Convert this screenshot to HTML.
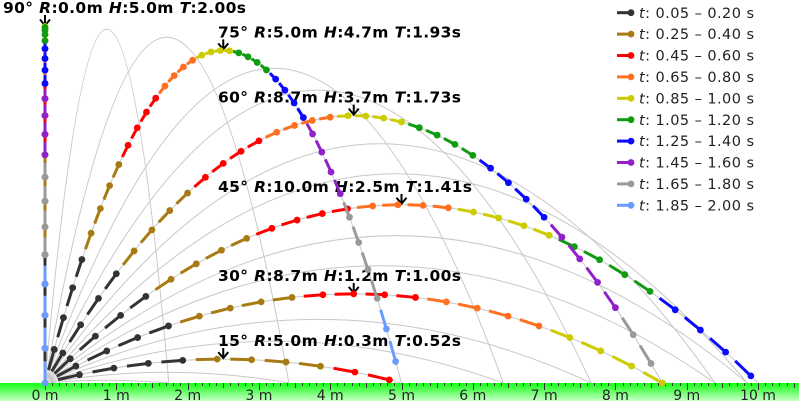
<!DOCTYPE html>
<html><head><meta charset="utf-8">
<style>
html,body{margin:0;padding:0;background:#fff;}
svg{display:block;}
.lab{font-family:"DejaVu Sans","Liberation Sans",sans-serif;font-weight:bold;font-size:15.5px;fill:#000;}
.leg{font-family:"DejaVu Sans","Liberation Sans",sans-serif;font-size:14.5px;fill:#222;}
.ax{font-family:"DejaVu Sans","Liberation Sans",sans-serif;font-size:14px;fill:#222;}
</style></head><body>
<svg id="s" width="799" height="401" viewBox="0 0 799 401" xmlns="http://www.w3.org/2000/svg">
<defs>
<linearGradient id="gg" x1="0" y1="0" x2="0" y2="1"><stop offset="0" stop-color="#11ff11"/><stop offset="1" stop-color="#c8ffc8"/></linearGradient>
<radialGradient id="fan" cx="45" cy="383" r="13" gradientUnits="userSpaceOnUse"><stop offset="0" stop-color="#eeeeee"/><stop offset="0.6" stop-color="#c4c4c4"/><stop offset="1" stop-color="#e8e8e8"/></radialGradient>
</defs>
<rect width="799" height="401" fill="#fff"/>
<g id="thin" fill="none" stroke="#c8c8c8" stroke-width="1"></g>
<path d="M45,383 L58,383 A13,13 0 0 0 45,370 Z" fill="url(#fan)"/>
<rect x="0" y="383" width="799" height="18" fill="url(#gg)"/>
<g id="ticks" stroke="#333" stroke-width="1"></g>
<g class="ax" text-anchor="middle">
<text x="45" y="400">0 m</text>
<text x="116.3" y="400">1 m</text>
<text x="187.6" y="400">2 m</text>
<text x="258.9" y="400">3 m</text>
<text x="330.2" y="400">4 m</text>
<text x="401.5" y="400">5 m</text>
<text x="472.8" y="400">6 m</text>
<text x="544.1" y="400">7 m</text>
<text x="615.4" y="400">8 m</text>
<text x="686.7" y="400">9 m</text>
<text x="758" y="400">10 m</text>
</g>
<g>
<text class="lab" x="3" y="13" textLength="243" lengthAdjust="spacing">90° <tspan font-style="italic">R</tspan>:0.0m <tspan font-style="italic">H</tspan>:5.0m <tspan font-style="italic">T</tspan>:2.00s</text>
<text class="lab" x="218" y="37.4" textLength="243" lengthAdjust="spacing">75° <tspan font-style="italic">R</tspan>:5.0m <tspan font-style="italic">H</tspan>:4.7m <tspan font-style="italic">T</tspan>:1.93s</text>
<text class="lab" x="218" y="102.6" textLength="243" lengthAdjust="spacing">60° <tspan font-style="italic">R</tspan>:8.7m <tspan font-style="italic">H</tspan>:3.7m <tspan font-style="italic">T</tspan>:1.73s</text>
<text class="lab" x="218" y="192" textLength="254" lengthAdjust="spacing">45° <tspan font-style="italic">R</tspan>:10.0m <tspan font-style="italic">H</tspan>:2.5m <tspan font-style="italic">T</tspan>:1.41s</text>
<text class="lab" x="218" y="281" textLength="243" lengthAdjust="spacing">30° <tspan font-style="italic">R</tspan>:8.7m <tspan font-style="italic">H</tspan>:1.2m <tspan font-style="italic">T</tspan>:1.00s</text>
<text class="lab" x="218" y="346" textLength="243" lengthAdjust="spacing">15° <tspan font-style="italic">R</tspan>:5.0m <tspan font-style="italic">H</tspan>:0.3m <tspan font-style="italic">T</tspan>:0.52s</text>
</g>
<g id="arrows" stroke="#000" stroke-width="2" fill="none"></g>
<g id="traj" stroke-linecap="butt"></g>
<g id="legend" stroke-width="3">
<line x1="617" y1="12.7" x2="631" y2="12.7" stroke="#333333"/><circle cx="631" cy="12.7" r="3.4" fill="#333333"/>
<line x1="617" y1="34.1" x2="631" y2="34.1" stroke="#a87a12"/><circle cx="631" cy="34.1" r="3.4" fill="#a87a12"/>
<line x1="617" y1="55.5" x2="631" y2="55.5" stroke="#ff0000"/><circle cx="631" cy="55.5" r="3.4" fill="#ff0000"/>
<line x1="617" y1="76.9" x2="631" y2="76.9" stroke="#ff7020"/><circle cx="631" cy="76.9" r="3.4" fill="#ff7020"/>
<line x1="617" y1="98.3" x2="631" y2="98.3" stroke="#cccc00"/><circle cx="631" cy="98.3" r="3.4" fill="#cccc00"/>
<line x1="617" y1="119.7" x2="631" y2="119.7" stroke="#109c10"/><circle cx="631" cy="119.7" r="3.4" fill="#109c10"/>
<line x1="617" y1="141.1" x2="631" y2="141.1" stroke="#0a0aff"/><circle cx="631" cy="141.1" r="3.4" fill="#0a0aff"/>
<line x1="617" y1="162.5" x2="631" y2="162.5" stroke="#9020c8"/><circle cx="631" cy="162.5" r="3.4" fill="#9020c8"/>
<line x1="617" y1="183.9" x2="631" y2="183.9" stroke="#9a9a9a"/><circle cx="631" cy="183.9" r="3.4" fill="#9a9a9a"/>
<line x1="617" y1="205.3" x2="631" y2="205.3" stroke="#6a9cff"/><circle cx="631" cy="205.3" r="3.4" fill="#6a9cff"/>
</g>
<g class="leg">
<text x="639" y="17.8" textLength="115" lengthAdjust="spacing"><tspan font-style="italic">t</tspan>: 0.05 – 0.20 s</text>
<text x="639" y="39.2" textLength="115" lengthAdjust="spacing"><tspan font-style="italic">t</tspan>: 0.25 – 0.40 s</text>
<text x="639" y="60.6" textLength="115" lengthAdjust="spacing"><tspan font-style="italic">t</tspan>: 0.45 – 0.60 s</text>
<text x="639" y="82" textLength="115" lengthAdjust="spacing"><tspan font-style="italic">t</tspan>: 0.65 – 0.80 s</text>
<text x="639" y="103.4" textLength="115" lengthAdjust="spacing"><tspan font-style="italic">t</tspan>: 0.85 – 1.00 s</text>
<text x="639" y="124.8" textLength="115" lengthAdjust="spacing"><tspan font-style="italic">t</tspan>: 1.05 – 1.20 s</text>
<text x="639" y="146.2" textLength="115" lengthAdjust="spacing"><tspan font-style="italic">t</tspan>: 1.25 – 1.40 s</text>
<text x="639" y="167.6" textLength="115" lengthAdjust="spacing"><tspan font-style="italic">t</tspan>: 1.45 – 1.60 s</text>
<text x="639" y="189" textLength="115" lengthAdjust="spacing"><tspan font-style="italic">t</tspan>: 1.65 – 1.80 s</text>
<text x="639" y="210.4" textLength="115" lengthAdjust="spacing"><tspan font-style="italic">t</tspan>: 1.85 – 2.00 s</text>
</g>
</svg>
<script>
(function(){
var S=71.3, X0=45, Y0=383;
function X(m){return X0+S*m;}
function Y(m){return Y0-S*m;}
var ns="http://www.w3.org/2000/svg";
function el(tag,attrs,parent){var e=document.createElementNS(ns,tag);for(var k in attrs)e.setAttribute(k,attrs[k]);parent.appendChild(e);return e;}
var thin=document.getElementById('thin');
for(var a=5;a<=90;a+=5){
  var r=a*Math.PI/180, R=20*Math.sin(r)*Math.cos(r), H=5*Math.pow(Math.sin(r),2);
  if(a==90){el('line',{x1:X0,y1:Y0,x2:X0,y2:Y(5)},thin);}
  else el('path',{d:'M'+X0+','+Y0+' Q'+X(R/2)+','+Y(2*H)+' '+X(R)+','+Y0},thin);
}
var ticks=document.getElementById('ticks');
for(var i=0;i<=106;i++){var x=Math.round(X(i/10))+0.5;var L=(i%10==0)?7:((i%5==0)?5:3);el('line',{x1:x,y1:Y0,x2:x,y2:Y0+L},ticks);}
var arrows=document.getElementById('arrows');
function arrow(x,y1,y2){el('path',{d:'M'+x+','+y1+' L'+x+','+y2+' M'+(x-5)+','+(y2-6)+' L'+x+','+y2+' L'+(x+5)+','+(y2-6)},arrows);}
var labs={90:13,75:37.4,60:102.6,45:192,30:281,15:346};
var cols=['#333333','#a87a12','#ff0000','#ff7020','#cccc00','#109c10','#0a0aff','#9020c8','#9a9a9a','#6a9cff'];
var tr=document.getElementById('traj');
[15,30,45,60,75,90].forEach(function(a){
  var r=a*Math.PI/180, vx=10*Math.cos(r), vy=10*Math.sin(r), T=2*vy/10;
  var R=vx*T, H=vy*vy/20;
  arrow(X(R/2), labs[a]+2, Y(H)-1);
});
[15,30,45,60,75,90].forEach(function(a){
  var r=a*Math.PI/180, vx=10*Math.cos(r), vy=10*Math.sin(r), T=2*vy/10;
  function px(t){return X(vx*t);} function py(t){return Y(vy*t-5*t*t);}
  for(var n=1;n*0.05<=T+1e-9;n++){
    var t=n*0.05, t0=t-0.031, c=cols[Math.floor((n-1)/4)];
    el('line',{x1:px(t0),y1:py(t0),x2:px(t),y2:py(t),stroke:c,'stroke-width':3},tr);
    el('circle',{cx:px(t),cy:py(t),r:3.4,fill:c},tr);
  }
});
})();
</script>
</body></html>
